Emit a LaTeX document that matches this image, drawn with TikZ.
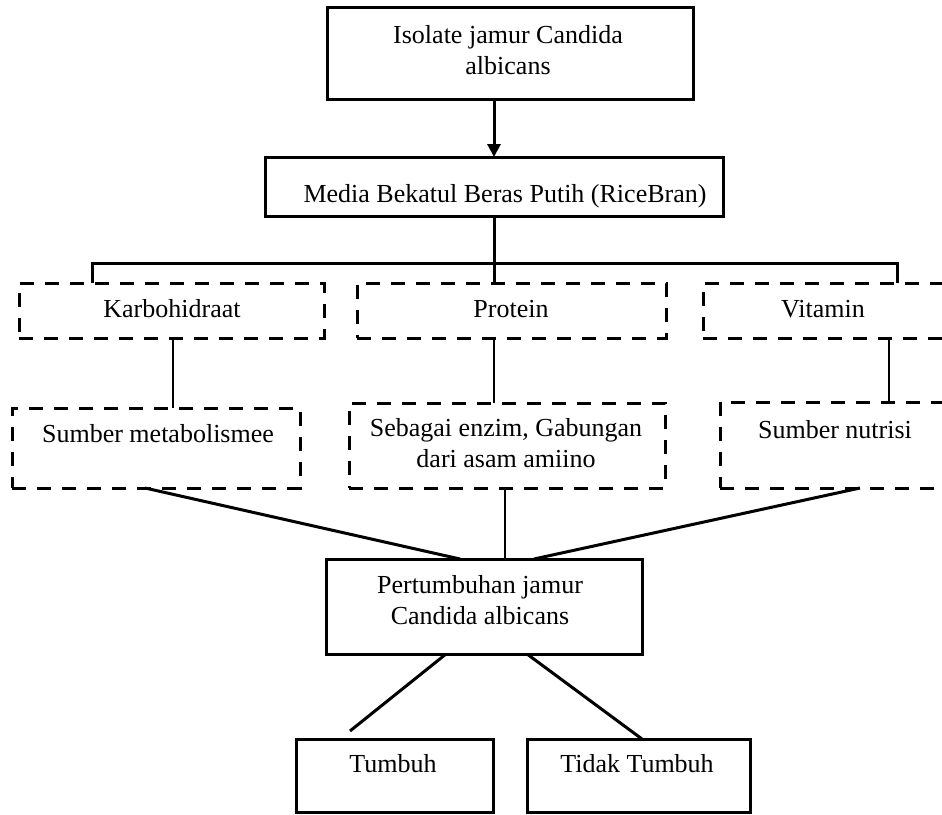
\documentclass[tikz,border=0pt]{standalone}
\usepackage{fontspec}
\setmainfont{Liberation Serif}
\usetikzlibrary{arrows.meta}
\tikzset{
  solidbox/.style={draw, line width=3pt, inner sep=0pt, outer sep=0pt},
  dashbox/.style={draw, line width=3pt, dash pattern=on 14pt off 11pt, inner sep=0pt, outer sep=0pt},
  txt/.style={inner sep=0pt, align=center, font=\fontsize{26pt}{31pt}\selectfont},
  conn/.style={line width=3pt},
  thinconn/.style={line width=2.5pt}
}
\begin{document}
\begin{tikzpicture}[x=1pt, y=-1pt]
\useasboundingbox (0,0) rectangle (942,814);
\clip (0,0) rectangle (942,814);
\fill[white] (0,0) rectangle (942,814);

% boxes
\node[solidbox, minimum width=366pt, minimum height=92pt] (top) at (510,53) {};
\node[solidbox, minimum width=458pt, minimum height=59pt] (media) at (494,186.5) {};
\node[dashbox, minimum width=305pt, minimum height=55pt] (karb) at (171.5,310.5) {};
\node[dashbox, minimum width=309pt, minimum height=55pt] (prot) at (511.5,310.5) {};
\node[dashbox, minimum width=243pt, minimum height=55pt] (vit) at (824.5,310.5) {};
\node[dashbox, minimum width=288pt, minimum height=80pt] (sm) at (156,448) {};
\node[dashbox, minimum width=316pt, minimum height=85pt] (seb) at (507,445.5) {};
\node[dashbox, minimum width=232pt, minimum height=86pt] (sn) at (836,445) {};
\node[solidbox, minimum width=316pt, minimum height=95pt] (pert) at (484,606.5) {};
\node[solidbox, minimum width=197pt, minimum height=73pt] (tum) at (394.5,775.5) {};
\node[solidbox, minimum width=223pt, minimum height=73pt] (tid) at (638.5,775.5) {};

% texts
\node[txt] (top-t) at (508,50) {Isolate jamur Candida\\albicans};
\node[txt] (media-t) at (505,196) {Media Bekatul Beras Putih (RiceBran)};
\node[txt] (karb-t) at (172,309) {Karbohidraat};
\node[txt] (prot-t) at (511,309) {Protein};
\node[txt] (vit-t) at (823,309) {Vitamin};
\node[txt] (sm-t) at (158,434) {Sumber metabolismee};
\node[txt] (seb-t) at (506,443) {Sebagai enzim, Gabungan\\dari asam amiino};
\node[txt] (sn-t) at (835,430) {Sumber nutrisi};
\node[txt] (pert-t) at (480,600) {Pertumbuhan jamur\\Candida albicans};
\node[txt] (tum-t) at (393,764) {Tumbuh};
\node[txt] (tid-t) at (637,764) {Tidak Tumbuh};

% connectors
\draw[conn, -{Triangle[length=13pt,width=13pt]}] (top.south -| media.north) -- (media.north);
\draw[conn] (media.south) -- (media.south |- prot.north);
\coordinate (barL) at (92,263);
\coordinate (barR) at (897,263);
\draw[conn] (barL |- karb.north) -- (barL) -- (barR) -- (barR |- vit.north);
\draw[thinconn] ([xshift=1.5pt]karb.south) -- ([xshift=1.5pt]karb.south |- sm.north);
\draw[thinconn] (media.south |- prot.south) -- (media.south |- seb.north);
\draw[thinconn] ([xshift=64.5pt]vit.south) -- ([xshift=64.5pt]vit.south |- sn.north);
\draw[thinconn] ([xshift=-2pt]seb.south) -- ([xshift=-2pt]seb.south |- pert.north);
\draw[conn] ([xshift=-11pt]sm.south) -- ([xshift=-24pt]pert.north);
\draw[conn] ([xshift=24pt]sn.south) -- ([xshift=50pt]pert.north);
\draw[conn] ([xshift=-38pt]pert.south) -- ([xshift=-44.5pt,yshift=8pt]tum.north);
\draw[conn] ([xshift=43pt]pert.south) -- ([xshift=3.5pt]tid.north);
\end{tikzpicture}
\end{document}
